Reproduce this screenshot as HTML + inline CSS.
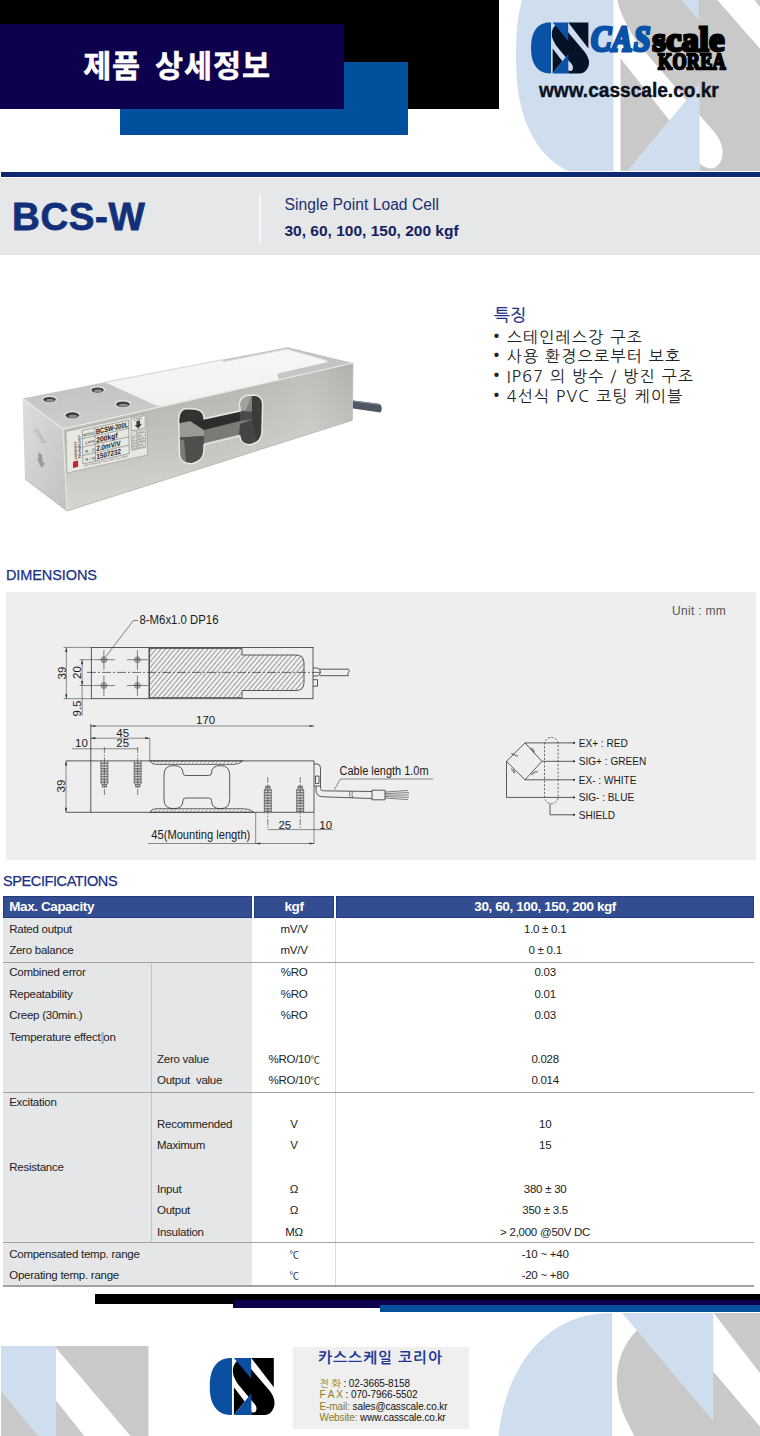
<!DOCTYPE html>
<html lang="ko">
<head>
<meta charset="utf-8">
<title>BCS-W Single Point Load Cell</title>
<style>
html,body{margin:0;padding:0;background:#fff;}
body{width:760px;height:1436px;position:relative;overflow:hidden;font-family:"Liberation Sans","NanumGothic",sans-serif;color:#222;}
.abs{position:absolute;}
#hd-black{left:0;top:0;width:499px;height:109px;background:#000;}
#hd-blue{left:120px;top:62px;width:288px;height:73px;background:#00509e;}
#hd-navy{left:0;top:24px;width:344px;height:85px;background:#0d004c;}
#hd-title{left:0;top:43.5px;width:354px;text-align:center;color:#fff;font:bold 30.5px/40px "Noto Sans CJK KR","NanumGothic",sans-serif;letter-spacing:0.9px;word-spacing:4.5px;-webkit-text-stroke:0.5px #fff;}
#band-line{left:1px;top:172px;width:759px;height:5px;background:#0f2873;}
#band{left:0;top:178px;width:760px;height:77px;background:#e6e7e9;border-bottom:1px solid #dcddde;box-sizing:border-box;}
#model{left:12px;top:197px;font:bold 38.5px/40px "Liberation Sans",sans-serif;color:#12307a;letter-spacing:0.6px;-webkit-text-stroke:0.8px #12307a;}
#band-div{left:259px;top:195px;width:2px;height:48px;background:#f6f6f6;}
#sub1{left:284.5px;top:195px;font:15.6px/20px "Liberation Sans",sans-serif;color:#1b2f6e;letter-spacing:0.05px;}
#sub2{left:284.5px;top:221px;font:bold 15.5px/20px "Liberation Sans",sans-serif;color:#14205f;letter-spacing:0;}

#lg-cas{left:590.5px;top:15px;font:italic bold 35px/50px "Liberation Serif",serif;color:#0a52a8;-webkit-text-stroke:3.2px #0a52a8;letter-spacing:1.5px;transform:scaleX(0.86);transform-origin:0 0;white-space:nowrap;}
#lg-scale{left:652.5px;top:15px;font:bold 34px/50px "Liberation Serif",serif;color:#000;-webkit-text-stroke:3px #000;letter-spacing:0.5px;transform-origin:0 0;white-space:nowrap;}
#lg-korea{left:658px;top:45px;font:bold 24px/32px "Liberation Serif",serif;color:#000;-webkit-text-stroke:2.4px #000;letter-spacing:0.4px;transform:scaleX(0.755);transform-origin:0 0;white-space:nowrap;}
#lg-url{left:539px;top:77px;font:bold 20px/26px "Liberation Sans",sans-serif;color:#0a1020;letter-spacing:0;-webkit-text-stroke:0.4px #0a1020;transform:scaleX(0.955);transform-origin:0 0;white-space:nowrap;}

#ft-h{left:494px;top:303px;font:17px/24px "NanumGothic","Noto Sans CJK KR",sans-serif;color:#1c2f8c;-webkit-text-stroke:0.3px #1c2f8c;}
#ft{left:494px;top:327.5px;font:16px/19.9px "NanumGothic","Noto Sans CJK KR",sans-serif;color:#222;white-space:nowrap;letter-spacing:1.25px;}
#ft .bl{display:inline-block;width:12.7px;letter-spacing:0;font-size:19px;line-height:10px;position:relative;left:-6.5px;}

#dm-h{left:6px;top:565px;font:14.5px/20px "Liberation Sans",sans-serif;color:#1a2f86;letter-spacing:-0.1px;-webkit-text-stroke:0.25px #1a2f86;}
#dm-panel{left:6px;top:592px;width:750px;height:268px;background:#eeeeee;}
#dm-unit{left:672px;top:603px;font:12px/16px "Liberation Sans",sans-serif;color:#555;letter-spacing:0.3px;}

#sp-h{left:3px;top:871px;font:14.5px/20px "Liberation Sans",sans-serif;color:#1a2f86;letter-spacing:-0.4px;-webkit-text-stroke:0.25px #1a2f86;}
#sp{left:0;top:896.3px;width:760px;height:392px;font:11.5px/21.66px "Liberation Sans","Noto Sans CJK KR",sans-serif;color:#222;letter-spacing:-0.25px;}
#sp .colbg{position:absolute;left:3.2px;top:22px;width:248.6px;height:367.8px;background:#e5e6e8;}
#sp .hd{position:absolute;top:0;height:22px;background:#334d91;box-shadow:inset 0 0 0 0.7px #1f367f;color:#fff;font:bold 13.5px/22.4px "Liberation Sans",sans-serif;white-space:nowrap;letter-spacing:-0.4px;}
#sp .h1{left:3.2px;width:248.6px;text-indent:6px;}
#sp .h2{left:254.2px;width:79.7px;text-align:center;}
#sp .h3{left:336.3px;width:417.7px;text-align:center;}
#sp .vl{position:absolute;width:1px;}
#sp .v1{left:151px;top:66px;height:280px;background:#c4c5c7;}
#sp .v2{left:334.5px;top:22.4px;height:367px;background:#dcdcdc;}
#sp .hl{position:absolute;left:3.2px;width:751px;height:1.4px;background:#a2a2a2;}
#sp .cursor{position:absolute;left:101px;top:135.5px;width:3px;height:12.5px;background:#9fc0e6;}
#sp .r{position:absolute;left:0;width:760px;height:21.66px;white-space:nowrap;}
#sp .r span{position:absolute;top:0;}
#sp .a{left:9.2px;}
#sp .b{left:157px;}
#sp .u{left:254.2px;width:79.7px;text-align:center;}
#sp .v{left:336.3px;width:417.7px;text-align:center;}
#sp .r span.dc,#sp .r span.at{position:static;}
#sp .dc{font-size:9.5px;}

#ct{left:293px;top:1346.5px;width:175.6px;height:82px;background:#efefef;}
#ct .t{position:absolute;left:25px;top:1px;font:bold 15px/20px "NanumGothic","Noto Sans CJK KR",sans-serif;color:#1f3a9a;letter-spacing:0.9px;white-space:nowrap;}
#ct .l{position:absolute;left:26.5px;font:10px/12px "Liberation Sans","NanumGothic",sans-serif;color:#111;white-space:nowrap;letter-spacing:-0.1px;}
#ct .k{color:#8a7a1a;}
</style>
</head>
<body>

<svg width="0" height="0" style="position:absolute">
<defs>
<g id="cs-band"><path d="M99.4,56.5 L60,12 L24.6,17.5 C12,30 4.6,48 4.6,67 C4.6,85 10,100 17,113 C22,123 27,132 33,140 L102,222 L118,241 C126,251 129,259 129,267 C129,277 124,284 117.8,286 C111,287 106,284 102,279.7 L102,300 L173,300 C200,300 224,270 224,235 C224,215 212,190 195,169 Z"/>
<path d="M101.5,0 L220,0 L220,154 Z"/>
<path d="M9.9,154 L67,228.7 L9.9,300 Z"/></g>
<g id="cs-tri"><path d="M9.9,0 L101,0 L101,108 Z"/><path d="M9.9,300 L102,300 L102,185 Z"/></g>
<path id="cs-c" d="M0.0,0.0 L-12.1,0.3 L-21.4,1.1 L-30.0,2.4 L-37.9,4.3 L-45.4,6.7 L-52.5,9.6 L-59.3,13.0 L-65.7,16.9 L-71.7,21.4 L-77.4,26.3 L-82.7,31.7 L-87.7,37.6 L-92.2,44.0 L-96.5,50.8 L-100.3,58.1 L-103.8,65.8 L-106.9,74.0 L-109.5,82.6 L-111.8,91.7 L-113.7,101.4 L-115.1,111.6 L-116.2,122.5 L-116.8,134.5 L-117.0,150.0 L-116.8,165.5 L-116.2,177.5 L-115.1,188.4 L-113.7,198.6 L-111.8,208.3 L-109.5,217.4 L-106.9,226.0 L-103.8,234.2 L-100.3,241.9 L-96.5,249.2 L-92.2,256.0 L-87.7,262.4 L-82.7,268.3 L-77.4,273.7 L-71.7,278.6 L-65.7,283.1 L-59.3,287.0 L-52.5,290.4 L-45.4,293.3 L-37.9,295.7 L-30.0,297.6 L-21.4,298.9 L-12.1,299.7 L-0.0,300.0 Z"/>
<path id="cs-c2" d="M0.0,0.0 L-9.4,0.3 L-17.8,1.2 L-25.7,2.6 L-33.3,4.7 L-40.6,7.3 L-47.6,10.5 L-54.4,14.3 L-60.9,18.5 L-67.1,23.4 L-72.9,28.7 L-78.5,34.5 L-83.7,40.9 L-88.5,47.6 L-93.0,54.9 L-97.1,62.5 L-100.8,70.6 L-104.1,79.0 L-106.9,87.9 L-109.4,97.0 L-111.4,106.6 L-113.0,116.5 L-114.1,126.8 L-114.8,137.7 L-115.0,150.0 L-114.8,162.3 L-114.1,173.2 L-113.0,183.5 L-111.4,193.4 L-109.4,203.0 L-106.9,212.1 L-104.1,221.0 L-100.8,229.4 L-97.1,237.5 L-93.0,245.1 L-88.5,252.4 L-83.7,259.1 L-78.5,265.5 L-72.9,271.3 L-67.1,276.6 L-60.9,281.5 L-54.4,285.7 L-47.6,289.5 L-40.6,292.7 L-33.3,295.3 L-25.7,297.4 L-17.8,298.8 L-9.4,299.7 L-0.0,300.0 Z"/>
</defs>
</svg>

<!-- watermark top right -->
<svg class="abs" style="left:500px;top:0" width="260" height="171" viewBox="500 0 260 171">
<g transform="translate(613.5,-70) scale(0.833)">
<use href="#cs-c" fill="#cfdeee"/>
<g transform="translate(-1.8,0) scale(1.03,1)"><use href="#cs-band" fill="#c9c9c9"/>
<use href="#cs-tri" fill="#cfdeee"/></g>
</g>
</svg>
<!-- watermark bottom right -->
<svg class="abs" style="left:480px;top:1313px" width="280" height="123" viewBox="480 1313 280 123">
<g transform="translate(612.2,1313)">
<use href="#cs-c2" fill="#cfdeee"/>
<use href="#cs-band" fill="#c9c9c9"/>
<use href="#cs-tri" fill="#cfdeee"/>
</g>
</svg>
<!-- watermark bottom left -->
<svg class="abs" style="left:0;top:1346px" width="150" height="90" viewBox="0 1346 150 90">
<rect x="1" y="1346" width="55" height="90" fill="#cfdeee"/>
<rect x="56" y="1346" width="92.5" height="90" fill="#c9c9c9"/>
<path d="M1,1391 L38,1436 L1,1436 Z" fill="#c9c9c9"/>
<path d="M56,1348 L130.5,1436 L84.2,1436 L56,1400.5 Z" fill="#fff"/>
</svg>
<!-- header blocks -->
<div id="hd-black" class="abs"></div>
<div id="hd-blue" class="abs"></div>
<div id="hd-navy" class="abs"></div>
<div id="hd-title" class="abs">제품 상세정보</div>

<!-- title band -->
<div id="band-line" class="abs"></div>
<div id="band" class="abs"></div>
<div id="model" class="abs">BCS-W</div>
<div id="band-div" class="abs"></div>
<div id="sub1" class="abs">Single Point Load Cell</div>
<div id="sub2" class="abs">30, 60, 100, 150, 200 kgf</div>

<!--WATERMARK-->

<!-- logo -->
<svg class="abs" style="left:526px;top:20px" width="70" height="58" viewBox="526 20 70 58">
<g transform="translate(551,22.4) scale(0.17)">
<use href="#cs-c" fill="#0a52a8"/>
<use href="#cs-band" fill="#061226"/>
<use href="#cs-tri" fill="#0a52a8"/>
</g>
</svg>
<div id="lg-cas" class="abs">CAS</div>
<div id="lg-scale" class="abs">scale</div>
<div id="lg-korea" class="abs">KOREA</div>
<div id="lg-url" class="abs">www.casscale.co.kr</div>


<!-- product photo (vector approximation) -->
<svg class="abs" style="left:10px;top:330px" width="390" height="200" viewBox="10 330 390 200">
<defs>
<linearGradient id="gEnd" x1="0" y1="0" x2="1" y2="1"><stop offset="0" stop-color="#dededc"/><stop offset="0.5" stop-color="#cfcfcd"/><stop offset="1" stop-color="#c2c2c0"/></linearGradient>
<linearGradient id="gFront" x1="0" y1="0" x2="0" y2="1"><stop offset="0" stop-color="#adaca7"/><stop offset="0.45" stop-color="#bebdb8"/><stop offset="1" stop-color="#d7d6d1"/></linearGradient>
<linearGradient id="gFrontX" x1="0" y1="0" x2="1" y2="0"><stop offset="0" stop-color="#fff" stop-opacity="0"/><stop offset="0.55" stop-color="#fff" stop-opacity="0.06"/><stop offset="0.85" stop-color="#fff" stop-opacity="0.22"/><stop offset="1" stop-color="#fff" stop-opacity="0.05"/></linearGradient>
<linearGradient id="gTop" x1="0" y1="0" x2="0.3" y2="1"><stop offset="0" stop-color="#bdbdbb"/><stop offset="1" stop-color="#cdcdcb"/></linearGradient>
<linearGradient id="gWhite" x1="0" y1="0" x2="0.2" y2="1"><stop offset="0" stop-color="#e9e9e7"/><stop offset="0.25" stop-color="#f6f6f4"/><stop offset="1" stop-color="#f1f1ef"/></linearGradient>
<linearGradient id="gHole" x1="0" y1="0" x2="1" y2="1"><stop offset="0" stop-color="#5a5a58"/><stop offset="0.5" stop-color="#2b2b2b"/><stop offset="1" stop-color="#4a4a48"/></linearGradient>
<linearGradient id="gBar" x1="0" y1="0" x2="0" y2="1"><stop offset="0" stop-color="#3b3b3a"/><stop offset="0.5" stop-color="#6e6e6a"/><stop offset="1" stop-color="#8b8b86"/></linearGradient>
</defs>
<!-- top face steel (full), then white cover -->
<path d="M22.5,398.5 L104.8,382.3 L287.6,347.3 L353,363 L63,429 Z" fill="url(#gTop)"/>
<path d="M104.8,382.3 L222,360 L224,361.5 L287,349 L327,360.5 Q329,361.5 326,362.5 L280,373 Q276,374.5 278,377 Q280,380 275,381.5 L166,405 Q158,407 154,404.5 Z" fill="url(#gWhite)"/>
<path d="M104.8,382.3 L222,360 L224,361.5 L287,349 L327,360.5" fill="none" stroke="#dadad8" stroke-width="1.2"/>
<!-- end face -->
<path d="M22.5,398.5 L63,429 L67,511 L25,479 Z" fill="url(#gEnd)"/>
<!-- front face -->
<path d="M63,429 L353,363 L352.3,420.3 L67,511 Z" fill="url(#gFront)"/>
<path d="M63,429 L353,363 L352.3,420.3 L67,511 Z" fill="url(#gFrontX)"/>
<!-- edge highlights -->
<path d="M22.5,398.5 L63,429 L353,363" fill="none" stroke="#e9e9e7" stroke-width="1.2"/>
<path d="M63,429 L67,511" fill="none" stroke="#e3e3e1" stroke-width="1.2"/>
<path d="M25,479 L67,511 L352.3,420.3" fill="none" stroke="#b3b3b1" stroke-width="0.8"/>
<path d="M353,363 L352.3,420.3" fill="none" stroke="#b9b9b7" stroke-width="0.8"/>
<!-- mounting holes on top -->
<g>
<ellipse cx="49.5" cy="399.3" rx="7.6" ry="3.6" fill="#e4e4e2"/><ellipse cx="49.5" cy="399.6" rx="6.2" ry="2.7" fill="#3a3d42"/><ellipse cx="50" cy="400.4" rx="4" ry="1.3" fill="#8a9096"/>
<ellipse cx="97.6" cy="389.8" rx="7.6" ry="3.5" fill="#e4e4e2"/><ellipse cx="97.6" cy="390.1" rx="6.2" ry="2.6" fill="#3a3d42"/><ellipse cx="98" cy="390.9" rx="4" ry="1.3" fill="#8a9096"/>
<ellipse cx="72.4" cy="415" rx="8.2" ry="4" fill="#e4e4e2"/><ellipse cx="72.4" cy="415.3" rx="6.8" ry="3" fill="#3a3d42"/><ellipse cx="73" cy="416.2" rx="4.4" ry="1.5" fill="#8a9096"/>
<ellipse cx="122.9" cy="404" rx="8.2" ry="3.9" fill="#e4e4e2"/><ellipse cx="122.9" cy="404.3" rx="6.8" ry="2.9" fill="#3a3d42"/><ellipse cx="123.4" cy="405.2" rx="4.4" ry="1.5" fill="#8a9096"/>
</g>
<!-- dumbbell cut-out -->
<clipPath id="holeclip"><path d="M178.6,420 Q178.6,409 187,408.5 L196,409.2 Q204,410.5 204.2,418.7 L240.2,410.8 L239.5,404 Q240,396 249,395.2 L254,395 Q262.6,396 262.6,404 L262,432 Q261,443 250,444.7 Q241,445 239.7,436 L204.2,444.7 L203.8,452 Q203,461 192,463.7 Q181,464 179.5,455 Z"/></clipPath>
<g clip-path="url(#holeclip)">
<rect x="170" y="390" width="100" height="80" fill="#4a4a48"/>
<!-- left oval: dark top, light middle band, dark bottom -->
<path d="M176,405 H206 V420 L176,424 Z" fill="#333331"/>
<path d="M176,424 L206,419.5 L240,412 L240,423 L206,433 L176,436 Z" fill="#2d2e2b"/>
<path d="M176,424 L190,421 L204,430 L204,436 L176,438 Z" fill="#9a9994"/>
<path d="M204,430 L240,421 L263,418 L263,428 L240,436.5 L204,445 Z" fill="#7b7a76"/>
<path d="M176,438 L204,436 L204,466 H176 Z" fill="#4e4e4c"/>
<path d="M179,440 L184,439.5 L186,462 L180,460 Z" fill="#7a7a77"/>
<!-- right oval -->
<path d="M238,393 H264 V412 L240,411 Z" fill="#80807c"/>
<path d="M252,393 H264 V446 H246 L252,430 Z" fill="#3b3b3a"/>
<path d="M240,424 L252,420 L258,446 H238 Z" fill="#454543"/>
<path d="M241,398 L251,396 L246,410 L240.5,411 Z" fill="#a3a29d"/>
</g>
<path d="M178.6,420 Q178.6,409 187,408.5 L196,409.2 Q204,410.5 204.2,418.7 L240.2,410.8 L239.5,404 Q240,396 249,395.2 L254,395 Q262.6,396 262.6,404 L262,432 Q261,443 250,444.7 Q241,445 239.7,436 L204.2,444.7 L203.8,452 Q203,461 192,463.7 Q181,464 179.5,455 Z" fill="none" stroke="#e9e9e5" stroke-width="1.5"/>
<path d="M204.5,444 L239.5,435.5" stroke="#d8d8d4" stroke-width="1.5" fill="none"/>
<!-- label -->
<g transform="matrix(0.976,-0.218,0.024,1,66,431.5)" font-family="Liberation Sans, sans-serif">
<rect x="0" y="0" width="82.5" height="41.5" fill="#e8e8e3" stroke="#8d8d8a" stroke-width="0.5"/>
<rect x="6.3" y="31.5" width="5.2" height="6.3" fill="#c8242b"/>
<g transform="translate(10.5,30) rotate(-90)" fill="#333"><text x="0" y="0" font-size="3.3" font-weight="bold">CURIOSITY</text><text x="0" y="4" font-size="3.3" font-weight="bold">TECHNOLOGY</text></g>
<g fill="#1d1d1d">
<text x="17.5" y="9" font-size="4" textLength="12" lengthAdjust="spacingAndGlyphs">MODEL</text><text x="30.5" y="9.3" font-size="7.4" font-weight="bold" textLength="33" lengthAdjust="spacingAndGlyphs">BCSW-200L</text>
<text x="19" y="17.3" font-size="4" textLength="10" lengthAdjust="spacingAndGlyphs">CAPA</text><text x="30.5" y="17.8" font-size="7.4" font-weight="bold" textLength="22" lengthAdjust="spacingAndGlyphs">200kgf</text>
<text x="19" y="25.8" font-size="4" textLength="10" lengthAdjust="spacingAndGlyphs">R . O</text><text x="30.5" y="26.2" font-size="7.4" font-weight="bold" textLength="25" lengthAdjust="spacingAndGlyphs">2.0mV/V</text>
<text x="19" y="34" font-size="4" textLength="10" lengthAdjust="spacingAndGlyphs">S / N</text><text x="30.5" y="34.4" font-size="7.4" font-weight="bold" textLength="25" lengthAdjust="spacingAndGlyphs">1507232</text>
<text x="17.5" y="39" font-size="2.6" fill="#555" textLength="45" lengthAdjust="spacingAndGlyphs">IP67 STAINLESS STEEL LOAD CELL KOREA</text>
</g>
<path d="M16.5,2.5 H64 M16.5,10.8 H64 M16.5,19.2 H64 M16.5,27.6 H64 M16.5,36 H64 M16.5,2.5 V36 M29.5,2.5 V36 M64,2.5 V36" stroke="#555" stroke-width="0.45" fill="none"/>
<rect x="66.5" y="1.5" width="14.5" height="12.5" fill="none" stroke="#555" stroke-width="0.45"/>
<text x="69.5" y="4.6" font-size="2.8" fill="#333">LOAD</text>
<path d="M72,5.5 h3.6 v3.6 h2 l-3.8,4 l-3.8,-4 h2 Z" fill="#3a3a3a"/>
<path d="M66.5,15.5 H81 M66.5,18.5 H81 M66.5,21.5 H81 M66.5,24.5 H81 M66.5,27.5 H81 M66.5,30.5 H81 M66.5,33.5 H81 M66.5,15.5 V33.5 M72,15.5 V33.5 M81,15.5 V33.5" stroke="#666" stroke-width="0.35" fill="none"/>
<g font-size="2.2" fill="#444"><text x="72.6" y="18">CABLE</text><text x="67" y="21">EX+</text><text x="72.6" y="21">RED</text><text x="67" y="24">EX-</text><text x="72.6" y="24">WHITE</text><text x="67" y="27">SIG+</text><text x="72.6" y="27">GREEN</text><text x="67" y="30">SIG-</text><text x="72.6" y="30">BLUE</text><text x="67" y="33">SHD</text><text x="72.6" y="33">BLACK</text></g>
</g>
<!-- end-face marking -->
<g transform="translate(33,430) rotate(52)" font-family="Liberation Sans, sans-serif" fill="#a9a9a6"><text x="0" y="0" font-size="6">200kgf</text></g>
<path d="M38,452 L42,455 L42.5,462 L45,463.5 L41.5,468 L36.5,458 L38.5,459.5 Z" fill="#9a9a98"/>
<!-- cable -->
<path d="M353,400.5 L380,404 Q383.5,408.5 380.5,412.5 L353,408.5 Z" fill="#4d5763"/>
<path d="M353,401.2 L380,404.7" stroke="#76828e" stroke-width="1.2" fill="none"/>
</svg>


<!-- features -->
<div id="ft-h" class="abs">특징</div>
<div id="ft" class="abs">
<div><span class="bl">•</span>스테인레스강 구조</div>
<div><span class="bl">•</span>사용 환경으로부터 보호</div>
<div><span class="bl">•</span>IP67 의 방수 / 방진 구조</div>
<div><span class="bl">•</span>4선식 PVC 코팅 케이블</div>
</div>


<!-- dimensions -->
<div id="dm-h" class="abs">DIMENSIONS</div>
<div id="dm-panel" class="abs"></div>
<div id="dm-unit" class="abs">Unit : mm</div>
<svg class="abs" style="left:6px;top:592px" width="750" height="268" viewBox="6 592 750 268" font-family="Liberation Sans, sans-serif" fill="#222">
<defs>
<pattern id="hatch" width="3.6" height="3.6" patternUnits="userSpaceOnUse" patternTransform="rotate(-50)"><line x1="0" y1="0" x2="3.6" y2="0" stroke="#333" stroke-width="0.85"/></pattern>
<pattern id="thread" width="2" height="1.6" patternUnits="userSpaceOnUse"><rect width="2" height="1.6" fill="#d8d8d8"/><line x1="0" y1="0.4" x2="2" y2="0.4" stroke="#555" stroke-width="0.7"/></pattern>
<pattern id="hatch2" width="3.2" height="3.2" patternUnits="userSpaceOnUse" patternTransform="rotate(-55)"><line x1="0" y1="0" x2="3.2" y2="0" stroke="#444" stroke-width="0.7"/></pattern>
</defs>
<g stroke="#333" stroke-width="0.8" fill="none">
<!-- top view -->
<rect x="91.3" y="647.4" width="221.7" height="51.3"/>
<line x1="149.2" y1="647.4" x2="149.2" y2="698.7"/>
<path id="tv-hatch" d="M149.2,648.4 H242 V655 H296 Q304,655 304,663 V682.5 Q304,690.5 296,690.5 H242 V697.7 H149.2 Z" fill="url(#hatch)"/>
<path d="M87,672.4 H322" stroke-dasharray="9 2 2 2" stroke-width="0.7"/>
<g stroke-width="0.6">
<circle cx="103.9" cy="659.7" r="2.9"/><circle cx="103.9" cy="659.7" r="1.5"/><path d="M93.5,659.7 H115 M103.9,650 V670"/>
<circle cx="137.4" cy="659.7" r="2.9"/><circle cx="137.4" cy="659.7" r="1.5"/><path d="M127,659.7 H148 M137.4,650 V670"/>
<circle cx="103.9" cy="685.5" r="2.9"/><circle cx="103.9" cy="685.5" r="1.5"/><path d="M93.5,685.5 H115 M103.9,675.5 V696"/>
<circle cx="137.4" cy="685.5" r="2.9"/><circle cx="137.4" cy="685.5" r="1.5"/><path d="M127,685.5 H148 M137.4,675.5 V696"/>
</g>
<!-- connector + cable (top view) -->
<path d="M313,668 H317 Q320.3,668 320.3,672 Q320.3,676 317,676 H313 M313,679.7 H317.5 V686.2 H313"/>
<path d="M320,669.2 H348.5 M320,675.7 H348.5 M348.5,669.2 Q350.5,671 348.5,672.5 Q346.8,674 348.5,675.7"/>
<!-- leader -->
<path d="M105.8,656.6 L133.4,620.5 H138" stroke-width="0.6"/>
<!-- dims top view -->
<g stroke-width="0.55">
<path d="M91.3,647.4 H63.5 M91.3,698.7 H63.5 M66.3,647.4 V698.7"/>
<path d="M79.5,659.7 H93 M79.5,685.5 H93 M82.1,659.7 V716"/>
</g>
<!-- side view -->
<path d="M90.8,724 V812.5"/>
<path d="M66,760.9 H314 V812.3 H66"/>
<path d="M149.9,760.8 Q151.5,764.4 155.5,764.4 H234 Q239.5,764.4 242.5,760.8 Z" fill="url(#hatch2)" stroke-width="0.7"/>
<path d="M149.9,812.3 Q151.5,808.7 155.5,808.7 H244 Q250,808.7 254,812.3 Z" fill="url(#hatch2)" stroke-width="0.7"/>
<!-- dumbbell -->
<path d="M173.5,765.6 Q183,765.6 183,773 Q183,775.5 186,775.5 H208.5 Q211.5,775.5 211.5,773 Q211.5,765.6 220.5,765.6 Q229.7,765.6 229.7,775 V799.5 Q229.7,808.7 220.5,808.7 Q211.5,808.7 211.5,800.5 Q211.5,798 208.5,798 H186 Q183,798 183,800.5 Q183,808.7 173.5,808.7 Q164,808.7 164,799.5 V775 Q164,765.6 173.5,765.6 Z"/>
<!-- screws left (from top) -->
<g stroke-width="0.6">
<path d="M100.9,760.9 V783.5 L102.3,784.5 V787 H106.5 V784.5 L107.9,783.5 V760.9" fill="url(#thread)"/>
<path d="M104.4,747 V796" stroke-dasharray="6 1.5 1.5 1.5"/>
<path d="M134.2,760.9 V783.5 L135.6,784.5 V787 H139.8 V784.5 L141.2,783.5 V760.9" fill="url(#thread)"/>
<path d="M137.7,747 V796" stroke-dasharray="6 1.5 1.5 1.5"/>
<!-- screws right (from bottom) -->
<path d="M264.3,812.3 V789.5 L265.7,788.5 V786 H269.9 V788.5 L271.3,789.5 V812.3" fill="url(#thread)"/>
<path d="M267.8,777 V829.6" stroke-dasharray="6 1.5 1.5 1.5"/>
<path d="M296.7,812.3 V789.5 L298.1,788.5 V786 H302.3 V788.5 L303.7,789.5 V812.3" fill="url(#thread)"/>
<path d="M300.2,777 V829.6" stroke-dasharray="6 1.5 1.5 1.5"/>
</g>
<!-- connector + cable (side) -->
<path d="M314,764 H317 Q320.5,764 320.5,768 V786 H314 M315.5,776 H319 V783.5 H315.5 Z"/>
<path d="M316,786 V790 Q316,796.5 323,796.8 L372,798.5 M320.5,786 V788.5 Q320.5,790.5 323.5,790.8 L372,791.5"/>
<path d="M350,791.2 Q348.5,794.5 350.5,797.8 M352.5,791.3 Q351,794.5 353,797.9" stroke-width="0.6"/>
<path d="M372,790.2 H385 V799.8 H372 Z"/>
<path d="M385,792 L408,790.5 M385,793.5 L409,792.6 M385,795 L409,795 M385,796.5 L409,797.4 M385,798 L408,799.6" stroke-width="0.6"/>
<path d="M334.4,789.6 L340.5,779 H433" stroke-width="0.55"/>
<!-- dims side view -->
<g stroke-width="0.55">
<path d="M90.8,726 H314"/>
<path d="M90.8,738.2 H149.8 V760.9"/>
<path d="M72,748.8 H137.7"/>
<path d="M66,760.9 V812.3"/>
<path d="M267.8,829.6 H333"/>
<path d="M314,812.3 V844"/>
<path d="M255.7,812.3 V844 M148,843.5 H314"/>
</g>
</g>
<!-- arrow heads -->
<g fill="#333" stroke="none">
<path d="M66.3,647.4 l-1.1,4.5 h2.2 Z M66.3,698.7 l-1.1,-4.5 h2.2 Z"/>
<path d="M82.1,659.7 l-1.1,4.5 h2.2 Z M82.1,685.5 l-1.1,-4.5 h2.2 Z"/>
<path d="M90.8,726 l4.5,-1.1 v2.2 Z M314,726 l-4.5,-1.1 v2.2 Z"/>
<path d="M90.8,738.2 l4.5,-1.1 v2.2 Z M149.8,738.2 l-4.5,-1.1 v2.2 Z"/>
<path d="M66,760.9 l-1.1,4.5 h2.2 Z M66,812.3 l-1.1,-4.5 h2.2 Z"/>
<path d="M255.7,843.5 l4.5,-1.1 v2.2 Z M314,843.5 l-4.5,-1.1 v2.2 Z"/>
</g>
<!-- labels -->
<g font-size="12" fill="#1a1a1a" stroke="none">
<text x="139.5" y="624.4" textLength="79" lengthAdjust="spacingAndGlyphs">8-M6x1.0 DP16</text>
<text transform="translate(65.5,679.5) rotate(-90)" font-size="11.5">39</text>
<text transform="translate(81,679) rotate(-90)" font-size="11.5">20</text>
<text transform="translate(81,716.5) rotate(-90)" font-size="11.5">9.5</text>
<text x="196" y="724.3" font-size="11.5">170</text>
<text x="116.3" y="736.6" font-size="11.5">45</text>
<text x="75" y="747" font-size="11.5">10</text>
<text x="116.3" y="747" font-size="11.5">25</text>
<text transform="translate(65,792.5) rotate(-90)" font-size="11.5">39</text>
<text x="278.4" y="828.5" font-size="11.5">25</text>
<text x="319.3" y="828.5" font-size="11.5">10</text>
<text x="151.3" y="838.6" font-size="12" textLength="99" lengthAdjust="spacingAndGlyphs">45(Mounting length)</text>
<text x="339.6" y="775" font-size="12" textLength="89" lengthAdjust="spacingAndGlyphs">Cable length 1.0m</text>
</g>
<!-- wiring -->
<g stroke="#333" stroke-width="0.8" fill="none">
<path d="M506.5,761.3 L525,742.9 L541.9,761.3 L525,779.8 Z"/>
<path d="M511,753.5 l1.5,-0.2 l0.4,1.9 l1.9,-1 l0.5,1.9 l1.8,-1 l0.4,1.6 M531,747.5 l0.2,1.6 l1.9,-0.5 l-0.9,2 l1.9,-0.4 l-0.9,1.9 l1.6,-0.3 M511.5,768.5 l0.3,1.6 l1.8,-0.6 l-0.8,2 l1.8,-0.5 l-0.8,1.9 l1.6,-0.3 M531,774.5 l1.6,-0.2 l0.3,-1.9 l1.9,0.9 l0.4,-1.9 l1.9,0.9 l0.3,-1.6" stroke-width="0.6"/>
<path d="M525,742.9 H574 M541.9,761.3 H574 M525,779.8 H574 M506.5,761.3 V797.4 H574 M550,803.7 V814.8 H574"/>
<rect x="544.5" y="737.4" width="13.6" height="66.3" rx="6.8" stroke-dasharray="2.2 1.6" stroke-width="0.7"/>
</g>
<g fill="#333" stroke="none"><circle cx="574" cy="742.9" r="1.1"/><circle cx="574" cy="761.3" r="1.1"/><circle cx="574" cy="779.8" r="1.1"/><circle cx="574" cy="797.4" r="1.1"/><circle cx="574" cy="814.8" r="1.1"/></g>
<g font-size="10.1" fill="#1a1a1a" stroke="none">
<text x="578.7" y="747.3">EX+ : RED</text>
<text x="578.7" y="765">SIG+ : GREEN</text>
<text x="578.7" y="783.5">EX- : WHITE</text>
<text x="578.7" y="801.1">SIG- : BLUE</text>
<text x="578.7" y="818.5">SHIELD</text>
</g>
</svg>


<!-- specifications -->
<div id="sp-h" class="abs">SPECIFICATIONS</div>
<div id="sp" class="abs">
<div class="colbg"></div>
<div class="hd h1">Max. Capacity</div><div class="hd h2">kgf</div><div class="hd h3">30, 60, 100, 150, 200 kgf</div>
<div class="vl v1"></div><div class="vl v2"></div>
<div class="hl" style="top:65.3px"></div><div class="hl" style="top:195.3px"></div><div class="hl" style="top:345.6px"></div><div class="hl" style="top:389.2px"></div>
<div class="cursor"></div>
<div class="r" style="top:22.40px"><span class="a">Rated output</span><span class="u">mV/V</span><span class="v">1.0 ± 0.1</span></div>
<div class="r" style="top:44.06px"><span class="a">Zero balance</span><span class="u">mV/V</span><span class="v">0 ± 0.1</span></div>
<div class="r" style="top:65.72px"><span class="a">Combined error</span><span class="u">%RO</span><span class="v">0.03</span></div>
<div class="r" style="top:87.38px"><span class="a">Repeatability</span><span class="u">%RO</span><span class="v">0.01</span></div>
<div class="r" style="top:109.04px"><span class="a">Creep (30min.)</span><span class="u">%RO</span><span class="v">0.03</span></div>
<div class="r" style="top:130.70px"><span class="a">Temperature effect on</span></div>
<div class="r" style="top:152.36px"><span class="b">Zero value</span><span class="u">%RO/10<span class="dc">℃</span></span><span class="v">0.028</span></div>
<div class="r" style="top:174.02px"><span class="b">Output&nbsp; value</span><span class="u">%RO/10<span class="dc">℃</span></span><span class="v">0.014</span></div>
<div class="r" style="top:195.68px"><span class="a">Excitation</span></div>
<div class="r" style="top:217.34px"><span class="b">Recommended</span><span class="u">V</span><span class="v">10</span></div>
<div class="r" style="top:239.00px"><span class="b">Maximum</span><span class="u">V</span><span class="v">15</span></div>
<div class="r" style="top:260.66px"><span class="a">Resistance</span></div>
<div class="r" style="top:282.32px"><span class="b">Input</span><span class="u">Ω</span><span class="v">380 ± 30</span></div>
<div class="r" style="top:303.98px"><span class="b">Output</span><span class="u">Ω</span><span class="v">350 ± 3.5</span></div>
<div class="r" style="top:325.64px"><span class="b">Insulation</span><span class="u">MΩ</span><span class="v">&gt; 2,000 <span class="at">@</span>50V DC</span></div>
<div class="r" style="top:347.30px"><span class="a">Compensated temp. range</span><span class="u"><span class="dc">℃</span></span><span class="v">-10 ~ +40</span></div>
<div class="r" style="top:368.96px"><span class="a">Operating temp. range</span><span class="u"><span class="dc">℃</span></span><span class="v">-20 ~ +80</span></div>
</div>


<!-- footer -->
<div class="abs" style="left:95px;top:1294px;width:665px;height:10px;background:#000"></div>
<div class="abs" style="left:233px;top:1300px;width:527px;height:7.5px;background:#0d004c"></div>
<div class="abs" style="left:380px;top:1304.5px;width:380px;height:7.3px;background:#00509e"></div>
<svg class="abs" style="left:205px;top:1355px" width="72" height="64" viewBox="205 1355 72 64">
<g transform="translate(232,1358) scale(0.19)">
<use href="#cs-c" fill="#0a4fa0"/>
<use href="#cs-band" fill="#000"/>
<use href="#cs-tri" fill="#0a4fa0"/>
</g>
</svg>
<div id="ct" class="abs">
<div class="t">카스스케일 코리아</div>
<div class="l" style="top:31px"><span class="k">전 화</span> : 02-3665-8158</div>
<div class="l" style="top:42.6px"><span class="k">F A X</span> : 070-7966-5502</div>
<div class="l" style="top:54.2px"><span class="k">E-mail:</span> sales@casscale.co.kr</div>
<div class="l" style="top:65.8px"><span class="k">Website:</span> www.casscale.co.kr</div>
</div>

</body>
</html>
